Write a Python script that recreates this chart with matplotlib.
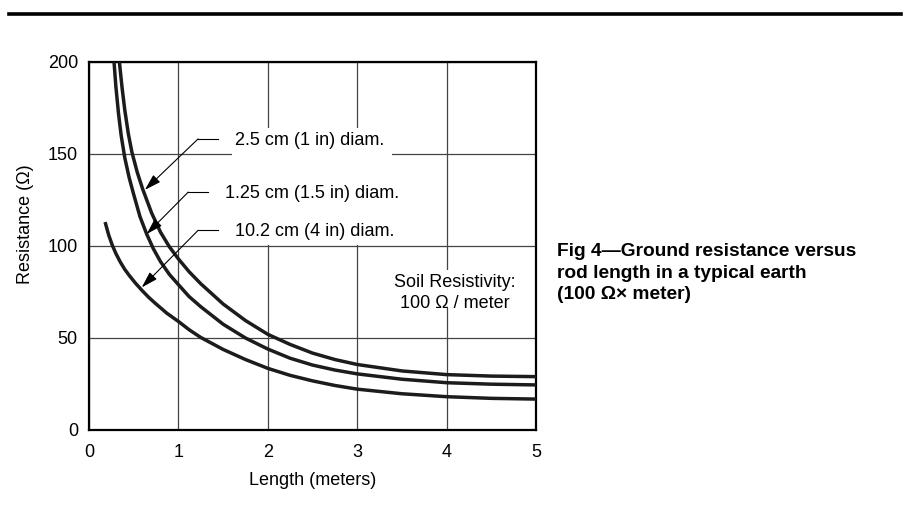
import matplotlib
matplotlib.use("Agg")
import matplotlib.pyplot as plt
from matplotlib.patches import Rectangle
from matplotlib.lines import Line2D

plt.rcParams['font.family'] = ['Liberation Sans', 'DejaVu Sans']

# ---- data ----
x_25 = [0.34, 0.37, 0.40, 0.44, 0.48, 0.54, 0.60, 0.70, 0.80, 0.90, 1.00, 1.12, 1.25, 1.50, 1.75,
        2.00, 2.25, 2.50, 2.75, 3.00, 3.50, 4.00, 4.50, 5.00]
r_25 = [200, 186, 174, 161, 151, 140, 131, 118, 107.5, 99.5, 93, 86, 79.5, 68.5, 59.5,
        52, 46.5, 41.8, 38.3, 35.6, 32.1, 30.1, 29.3, 29]

x_125 = [0.28, 0.30, 0.33, 0.36, 0.40, 0.45, 0.50, 0.57, 0.645, 0.72, 0.80, 0.90, 1.00, 1.12, 1.25,
         1.50, 1.75, 2.00, 2.25, 2.50, 2.75, 3.00, 3.50, 4.00, 4.50, 5.00]
r_125 = [200, 187, 172, 160, 148, 137, 128, 116, 106.5, 98.5, 91.5, 84.5, 79, 72.5, 67,
         57.5, 50, 44, 39, 35.3, 32.6, 30.5, 27.6, 25.7, 24.9, 24.5]

x_102 = [0.18, 0.20, 0.22, 0.26, 0.30, 0.35, 0.40, 0.45, 0.52, 0.59, 0.67, 0.75, 0.87, 1.00, 1.12,
         1.25, 1.50, 1.75, 2.00, 2.25, 2.50, 2.75, 3.00, 3.50, 4.00, 4.50, 5.00]
r_102 = [113, 109.5, 106, 100.5, 96, 91.3, 87.3, 84, 79.8, 76, 72, 68.5, 63.5, 59, 54.5,
         50.3, 43.8, 38.3, 33.5, 29.7, 26.7, 24.2, 22.2, 19.7, 18.1, 17.2, 16.8]

labels = ["2.5 cm (1 in) diam.", "1.25 cm (1.5 in) diam.", "10.2 cm (4 in) diam."]
x_ticks = [0, 1, 2, 3, 4, 5]
y_ticks = [0, 50, 100, 150, 200]

fig = plt.figure(figsize=(9.1, 5.23), dpi=100)
ax = fig.add_axes([89/910, 1-430/523, (536-89)/910, (430-62)/523])

ax.set_xlim(0, 5)
ax.set_ylim(0, 200)
ax.set_xticks(x_ticks)
ax.set_yticks(y_ticks)
ax.tick_params(length=0, labelsize=13)
ax.tick_params(axis='x', pad=10)
ax.tick_params(axis='y', pad=8)
ax.grid(True, color='#444444', lw=0.9)
ax.set_axisbelow(True)
for s in ax.spines.values():
    s.set_linewidth(1.6)
    s.set_color('black')

# white areas behind labels
ax.add_patch(Rectangle((1.6, 100.5), 1.79, 63.5, facecolor='white', edgecolor='none', zorder=1))
ax.add_patch(Rectangle((3.45, 66.5), 1.28, 20.5, facecolor='white', edgecolor='none', zorder=1))

lw = 2.5
col = '#1c1c1c'
for xs, ys in [(x_25, r_25), (x_125, r_125), (x_102, r_102)]:
    ax.plot(xs, ys, color=col, lw=lw, solid_capstyle='butt', solid_joinstyle='round', zorder=3)

# labels with leaders
label_pos = [(1.63, 157.5), (1.52, 128.5), (1.63, 107.8)]
leader_h = [((1.44, 158.2), (1.22, 158.2)), ((1.33, 129.3), (1.11, 129.3)), ((1.44, 108.5), (1.22, 108.5))]
tips = [(0.625, 130.5), (0.645, 106.5), (0.59, 77.5)]
for lab, (tx, ty), ((hx0, hy0), (hx1, hy1)), tip in zip(labels, label_pos, leader_h, tips):
    ax.text(tx, ty, lab, fontsize=13, ha='left', va='center', zorder=4)
    ax.plot([hx0, hx1], [hy0, hy1], color='black', lw=0.8, zorder=4)
    ax.annotate('', xy=tip, xytext=(hx1, hy1),
                arrowprops=dict(arrowstyle='-|>,head_length=1.0,head_width=0.3',
                                color='black', lw=0.8, shrinkA=0, shrinkB=0), zorder=4)

ax.text(4.09, 74.5, "Soil Resistivity:\n100 \u03a9 / meter", fontsize=13, ha='center', va='center',
        linespacing=1.3, zorder=4)

ax.set_xlabel("Length (meters)", fontsize=13, labelpad=8)
ax.set_ylabel("Resistance (\u03a9)", fontsize=13)
ax.yaxis.set_label_coords(-0.122, 0.56)

fig.text(557/910, 1-273/523, "Fig 4\u2014Ground resistance versus\nrod length in a typical earth\n(100 \u03a9\u00d7 meter)",
         fontsize=13.8, fontweight='bold', ha='left', va='center', linespacing=1.32)

fig.add_artist(Line2D([0.01, 0.99], [1-14/523, 1-14/523], color='black', lw=2.6))

fig.savefig("out.png", dpi=100)
